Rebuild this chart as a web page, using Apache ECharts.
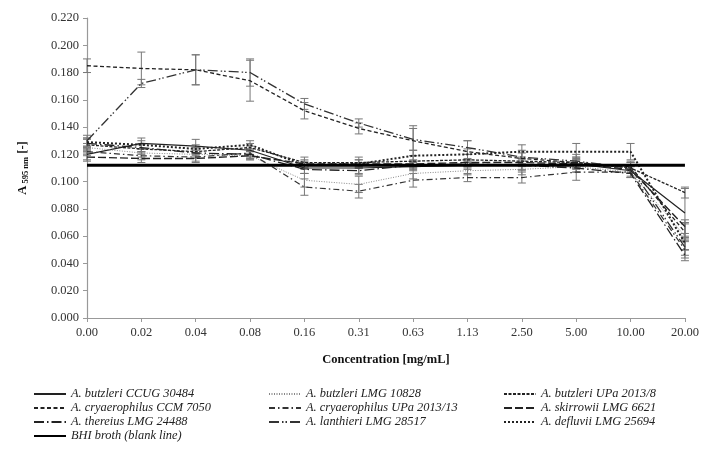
<!DOCTYPE html>
<html><head><meta charset="utf-8">
<script src="https://cdn.jsdelivr.net/npm/echarts@6/dist/echarts.min.js"></script>
<style>html,body{margin:0;padding:0;background:#fff}#c{width:702px;height:457px}</style>
</head><body><div id="c"></div>
<script>
const categories = ['0.00','0.02','0.04','0.08','0.16','0.31','0.63','1.13','2.50','5.00','10.00','20.00'];
const names = ['A. butzleri CCUG 30484','A. butzleri LMG 10828','A. butzleri UPa 2013/8',
  'A. cryaerophilus CCM 7050','A. cryaerophilus UPa 2013/13','A. skirrowii LMG 6621',
  'A. thereius LMG 24488','A. lanthieri LMG 28517','A. defluvii LMG 25694','BHI broth (blank line)'];
const butzleriCCUG   = [0.120,0.128,0.126,0.123,0.110,0.110,0.111,0.112,0.112,0.113,0.108,0.077];
const butzleriLMG    = [0.125,0.121,0.120,0.119,0.101,0.098,0.106,0.108,0.109,0.111,0.107,0.060];
const butzleriUPa    = [0.127,0.124,0.122,0.125,0.114,0.114,0.115,0.116,0.115,0.114,0.110,0.092];
const cryaeroCCM     = [0.185,0.183,0.182,0.174,0.152,0.139,0.130,0.122,0.117,0.114,0.111,0.063];
const cryaeroUPa     = [0.122,0.119,0.118,0.121,0.096,0.093,0.101,0.103,0.103,0.107,0.107,0.050];
const skirrowii      = [0.118,0.117,0.117,0.119,0.113,0.113,0.113,0.114,0.114,0.113,0.109,0.067];
const thereius       = [0.128,0.125,0.121,0.120,0.109,0.108,0.112,0.113,0.112,0.110,0.106,0.046];
const lanthieri      = [0.130,0.172,0.182,0.180,0.157,0.143,0.131,0.125,0.118,0.115,0.110,0.052];
const defluvii       = [0.129,0.127,0.124,0.127,0.112,0.113,0.119,0.120,0.122,0.122,0.122,0.055];
const blank          = [0.112,0.112,0.112,0.112,0.112,0.112,0.112,0.112,0.112,0.112,0.112,0.112];
// standard deviations (error bars)
const errCCUG   = [0.004,0.004,0.005,0.003,0.004,0.004,0.003,0.003,0.004,0.004,0.004,0.018];
const errLMG    = [0.003,0.003,0.003,0.003,0.005,0.006,0.004,0.003,0.004,0.004,0.004,0.010];
const errUPa    = [0.004,0.003,0.003,0.003,0.004,0.004,0.004,0.004,0.003,0.004,0.004,0.004];
const errCCM    = [0.005,0.012,0.011,0.015,0.006,0.004,0.011,0.008,0.004,0.004,0.004,0.006];
const errUPa13  = [0.003,0.003,0.003,0.003,0.006,0.005,0.005,0.003,0.004,0.006,0.004,0.006];
const errSkir   = [0.003,0.003,0.003,0.003,0.003,0.003,0.003,0.003,0.003,0.003,0.003,0.005];
const errTher   = [0.004,0.003,0.003,0.003,0.003,0.003,0.003,0.003,0.003,0.003,0.003,0.004];
const errLanth  = [0.004,0.003,0.011,0.010,0.004,0.003,0.008,0.005,0.005,0.005,0.004,0.006];
const errDefl   = [0.003,0.003,0.003,0.003,0.003,0.003,0.004,0.004,0.005,0.006,0.006,0.005];

const values = [butzleriCCUG,butzleriLMG,butzleriUPa,cryaeroCCM,cryaeroUPa,skirrowii,thereius,lanthieri,defluvii,blank];
const errs = [errCCUG,errLMG,errUPa,errCCM,errUPa13,errSkir,errTher,errLanth,errDefl,null];
const styles = [
  {type:'solid', width:1.2, color:'#222'},
  {type:[1,1.5], width:1, color:'#888'},
  {type:[3,1.5], width:1.3, color:'#222'},
  {type:[4,2.5], width:1.3, color:'#222'},
  {type:[6,3,1.5,3], width:1.2, color:'#333'},
  {type:[8,3], width:1.4, color:'#222'},
  {type:[10,3,1.5,3], width:1.3, color:'#222'},
  {type:[10,3,1.5,2,1.5,3], width:1.3, color:'#333'},
  {type:[2,2], width:2, color:'#222'},
  {type:'solid', width:3, color:'#000'}
];
const font = 'Liberation Serif';
const series = [];
names.forEach((n,i)=>{
  if (errs[i]) {
    series.push({
      type:'custom', name:'err '+i, silent:true, z:1,
      data: values[i].map((v,k)=>[k, v-errs[i][k], v+errs[i][k]]),
      renderItem:(params, api)=>{
        const lo = api.coord([api.value(0), api.value(1)]);
        const hi = api.coord([api.value(0), api.value(2)]);
        const w = 4;
        const st = {stroke:'#777', lineWidth:1};
        return {type:'group', children:[
          {type:'line', shape:{x1:lo[0],y1:lo[1],x2:hi[0],y2:hi[1]}, style:st},
          {type:'line', shape:{x1:lo[0]-w,y1:lo[1],x2:lo[0]+w,y2:lo[1]}, style:st},
          {type:'line', shape:{x1:hi[0]-w,y1:hi[1],x2:hi[0]+w,y2:hi[1]}, style:st}
        ]};
      }
    });
  }
  series.push({
    type:'line', name:n, data:values[i], symbol:'none', z:2,
    lineStyle:styles[i], itemStyle:{color:styles[i].color}
  });
});
const legendBase = {
  orient:'vertical', itemWidth:32, itemHeight:10, itemGap:2, padding:0,
  itemStyle:{opacity:0},
  textStyle:{fontFamily:font, fontStyle:'italic', fontSize:12.4, color:'#222'}
};
function lg(left, top, data){ return Object.assign({}, legendBase, {left:left, top:top, data:data}); }
const option = {
  animation:false,
  grid:{left:87, right:13, top:18, bottom:139},
  xAxis:{
    type:'category', data:categories, boundaryGap:false,
    name:'Concentration [mg/mL]', nameLocation:'middle', nameGap:35,
    nameTextStyle:{fontFamily:font, fontWeight:'bold', fontSize:12.5, color:'#111'},
    axisLine:{lineStyle:{color:'#999', width:1.2}},
    axisTick:{alignWithLabel:true, length:4, lineStyle:{color:'#999'}},
    axisLabel:{fontFamily:font, fontSize:12.5, color:'#333', margin:8}
  },
  yAxis:{
    type:'value', min:0, max:0.22, interval:0.02,
    name:'{a|A}{s| 595 nm}{a| [-]}', nameLocation:'middle', nameGap:57, nameRotate:90,
    nameTextStyle:{rich:{a:{fontFamily:font, fontWeight:'bold', fontSize:12.5, color:'#111'},
                         s:{fontFamily:font, fontWeight:'bold', fontSize:8.5, color:'#111', padding:[5,0,0,0]}}},
    splitLine:{show:false},
    axisLine:{show:true, lineStyle:{color:'#999', width:1.2}},
    axisTick:{show:true, length:4, lineStyle:{color:'#999'}},
    axisLabel:{fontFamily:font, fontSize:12.5, color:'#333', margin:8, formatter:function(v){return v.toFixed(3);}}
  },
  legend:[
    lg(33, 388, [names[0],names[3],names[6],names[9]]),
    lg(268, 388, [names[1],names[4],names[7]]),
    lg(503, 388, [names[2],names[5],names[8]])
  ],
  series:series
};
const chart = echarts.init(document.getElementById('c'), null, {renderer:'canvas'});
chart.setOption(option);
</script>
</body></html>
